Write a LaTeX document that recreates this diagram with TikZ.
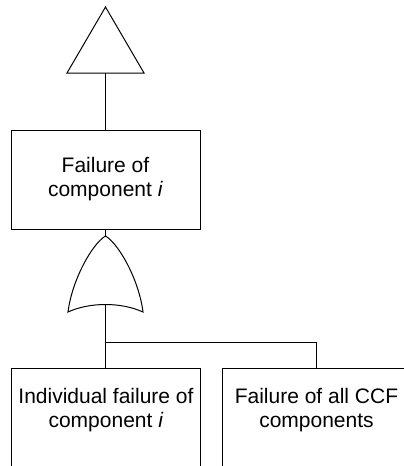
\documentclass[tikz,border=0pt]{standalone}
\usepackage{fontspec}
\setmainfont{Liberation Sans}
\usetikzlibrary{calc}

\tikzset{
    event/.style={draw, minimum width=189pt, minimum height=99pt, inner sep=0pt,
        align=center, font=\fontsize{21}{24}\selectfont},
}

\begin{document}
\begin{tikzpicture}[x=1pt, y=-1pt, line width=1pt]
    \useasboundingbox (0,0) rectangle (404,466);
    \clip (0,0) rectangle (404,466);

    \coordinate (T) at (105.5,7);
    \coordinate (TL) at (67,73);
    \coordinate (TR) at (144,73);
    \coordinate (transfer) at (105.5,73);
    \coordinate (G) at (105.5,236);
    \coordinate (GL) at (68,312);
    \coordinate (GR) at (143,312);
    \coordinate (gout) at (105.5,304.5);
    \coordinate (split) at (105.5,342);

    % transfer triangle
    \draw (T) -- (TL) -- (TR) -- cycle;

    \node[event] (fail) at (105.5,179.5) {Failure of\\component \textit{i}};
    \node[event, anchor=north, text depth=20pt] (indiv) at (106,368) {Individual failure of\\component \textit{i}};
    \node[event, anchor=north, text depth=20pt] (ccf) at (316.5,368) {Failure of all CCF\\components};

    % OR gate
    \draw (G) .. controls (92,244) and (72,280) .. (GL)
        .. controls (90,302) and (121,302) .. (GR)
        .. controls (139,280) and (119,244) .. (G);

    \draw (transfer) -- (fail.north);
    \draw (fail.south) -- (G);
    \draw (gout) -- (gout |- indiv.north);
    \draw (split) -| (ccf.north);
\end{tikzpicture}
\end{document}
